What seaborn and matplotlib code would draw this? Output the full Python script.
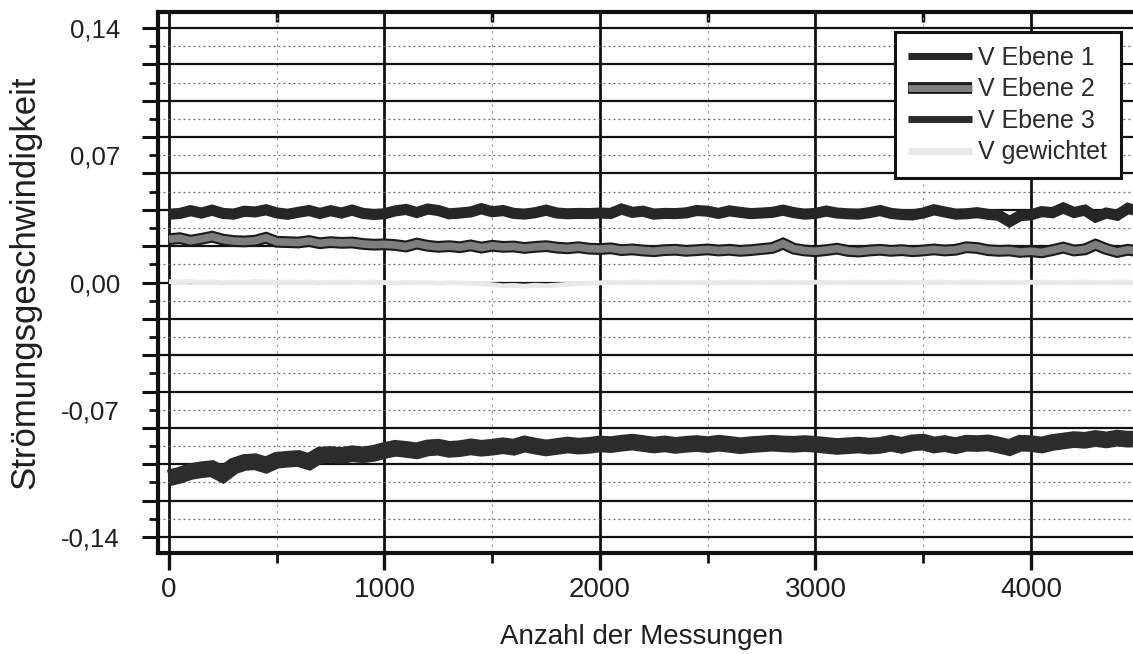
import matplotlib
matplotlib.use("Agg")
import matplotlib.pyplot as plt
import matplotlib.patheffects as pe
import pandas as pd
import seaborn as sns

# Anzahl der Messungen (Stützwerte alle 50 Messungen)
messung = list(range(0, 4501, 50))

v_ebene_1 = [
    0.0375, 0.0380, 0.0395, 0.0382, 0.0398, 0.0380, 0.0376, 0.0392, 0.0388, 0.0400,
    0.0383, 0.0375, 0.0386, 0.0396, 0.0380, 0.0395, 0.0382, 0.0398, 0.0380, 0.0374,
    0.0378, 0.0394, 0.0402, 0.0385, 0.0404, 0.0396, 0.0378, 0.0382, 0.0388, 0.0406,
    0.0389, 0.0396, 0.0380, 0.0376, 0.0384, 0.0398, 0.0382, 0.0378, 0.0380, 0.0379,
    0.0382, 0.0380, 0.0404, 0.0386, 0.0392, 0.0376, 0.0380, 0.0379, 0.0383, 0.0396,
    0.0392, 0.0380, 0.0394, 0.0386, 0.0379, 0.0382, 0.0386, 0.0398, 0.0384, 0.0376,
    0.0380, 0.0393, 0.0382, 0.0378, 0.0376, 0.0384, 0.0396, 0.0380, 0.0374, 0.0372,
    0.0382, 0.0400, 0.0388, 0.0376, 0.0378, 0.0384, 0.0375, 0.0370, 0.0335, 0.0368,
    0.0372, 0.0390, 0.0384, 0.0410, 0.0385, 0.0398, 0.0360, 0.0382, 0.0370, 0.0408,
    0.0390,
]

v_ebene_2 = [
    0.0238, 0.0244, 0.0230, 0.0240, 0.0252, 0.0236, 0.0228, 0.0226, 0.0230, 0.0246,
    0.0224, 0.0222, 0.0220, 0.0228, 0.0216, 0.0222, 0.0218, 0.0220, 0.0212, 0.0208,
    0.0210, 0.0206, 0.0198, 0.0214, 0.0202, 0.0196, 0.0200, 0.0194, 0.0204, 0.0192,
    0.0202, 0.0196, 0.0198, 0.0190, 0.0196, 0.0200, 0.0192, 0.0188, 0.0194, 0.0186,
    0.0184, 0.0188, 0.0178, 0.0182, 0.0176, 0.0172, 0.0178, 0.0180, 0.0174, 0.0178,
    0.0182, 0.0176, 0.0180, 0.0174, 0.0178, 0.0184, 0.0190, 0.0214, 0.0186, 0.0176,
    0.0172, 0.0178, 0.0186, 0.0174, 0.0170, 0.0176, 0.0180, 0.0174, 0.0178, 0.0172,
    0.0176, 0.0182, 0.0176, 0.0180, 0.0194, 0.0190, 0.0178, 0.0174, 0.0176, 0.0168,
    0.0172, 0.0166, 0.0178, 0.0192, 0.0176, 0.0182, 0.0208, 0.0184, 0.0168, 0.0180,
    0.0172,
]

v_ebene_3 = [
    -0.1075, -0.1060, -0.1040, -0.1030, -0.1024, -0.1055, -0.1010, -0.0990, -0.0986, -0.1004,
    -0.0978, -0.0972, -0.0968, -0.0986, -0.0950, -0.0946, -0.0952, -0.0942, -0.0948, -0.0940,
    -0.0924, -0.0912, -0.0918, -0.0926, -0.0910, -0.0906, -0.0918, -0.0914, -0.0904, -0.0912,
    -0.0906, -0.0898, -0.0906, -0.0888, -0.0900, -0.0910, -0.0902, -0.0894, -0.0900, -0.0896,
    -0.0888, -0.0892, -0.0884, -0.0878, -0.0886, -0.0894, -0.0888, -0.0896, -0.0890, -0.0886,
    -0.0892, -0.0884, -0.0890, -0.0898, -0.0892, -0.0888, -0.0884, -0.0888, -0.0890, -0.0886,
    -0.0890, -0.0896, -0.0902, -0.0898, -0.0894, -0.0900, -0.0896, -0.0884, -0.0896, -0.0882,
    -0.0878, -0.0894, -0.0886, -0.0898, -0.0884, -0.0886, -0.0882, -0.0894, -0.0908, -0.0884,
    -0.0886, -0.0894, -0.0880, -0.0872, -0.0864, -0.0868, -0.0858, -0.0866, -0.0856, -0.0862,
    -0.0860,
]

v_gewichtet = [
    0.0005, 0.0002, 0.0006, 0.0001, 0.0004, -0.0002, 0.0003, 0.0000, 0.0005, 0.0002,
    -0.0001, 0.0003, 0.0000, 0.0002, -0.0002, 0.0001, 0.0003, 0.0000, -0.0001, 0.0002,
    0.0000, -0.0003, 0.0001, -0.0002, 0.0000, -0.0004, -0.0001, -0.0003, -0.0005, -0.0008,
    -0.0012, -0.0018, -0.0016, -0.0020, -0.0015, -0.0018, -0.0014, -0.0010, -0.0006, -0.0004,
    -0.0002, 0.0001, -0.0002, 0.0002, 0.0000, -0.0001, 0.0003, 0.0001, -0.0002, 0.0000,
    0.0002, -0.0001, 0.0001, 0.0003, 0.0000, -0.0002, 0.0001, 0.0002, -0.0001, 0.0000,
    0.0002, 0.0001, -0.0002, 0.0000, 0.0003, 0.0001, -0.0001, 0.0002, 0.0000, -0.0002,
    0.0001, 0.0003, 0.0000, -0.0001, 0.0002, 0.0001, -0.0002, 0.0000, 0.0002, -0.0001,
    0.0001, 0.0003, 0.0000, -0.0002, 0.0001, 0.0002, 0.0000, -0.0001, 0.0002, 0.0001,
    0.0000,
]

serien = ["V Ebene 1", "V Ebene 2", "V Ebene 3", "V gewichtet"]

x_ticks = [0, 1000, 2000, 3000, 4000]
x_ticklabels = ["0", "1000", "2000", "3000", "4000"]
x_minor = [500, 1500, 2500, 3500, 4500]

y_grid_major = [-0.14, -0.12, -0.10, -0.08, -0.06, -0.04, -0.02, 0.00,
                0.02, 0.04, 0.06, 0.08, 0.10, 0.12, 0.14]
y_grid_minor = [-0.13, -0.11, -0.09, -0.07, -0.05, -0.03, -0.01,
                0.01, 0.03, 0.05, 0.07, 0.09, 0.11, 0.13]
y_beschriftung = {0.14: "0,14", 0.07: "0,07", 0.00: "0,00", -0.07: "-0,07", -0.14: "-0,14"}

df = pd.DataFrame({
    "Messung": messung * 4,
    "v": v_ebene_1 + v_ebene_2 + v_ebene_3 + v_gewichtet,
    "Serie": sum([[s] * len(messung) for s in serien], []),
})

sns.set_theme(style="white")
plt.rcParams["font.family"] = ["Liberation Sans", "DejaVu Sans"]
plt.rcParams["axes.unicode_minus"] = False

W, H = 1133, 654
fig = plt.figure(figsize=(W / 100, H / 100), dpi=100)
ax_l, ax_r, ax_t, ax_b = 158, 1140, 12, 553
ax = fig.add_axes([ax_l / W, 1 - ax_b / H, (ax_r - ax_l) / W, (ax_b - ax_t) / H])

gemeinsam = dict(solid_capstyle="butt", solid_joinstyle="miter")
stil = {
    "V Ebene 1": dict(color="#262626", linewidth=8, zorder=5),
    "V Ebene 2": dict(color="#7e7e7e", linewidth=5.5, zorder=5,
                      path_effects=[pe.Stroke(linewidth=8.5, foreground="#1a1a1a"), pe.Normal()]),
    "V Ebene 3": dict(color="#2c2c2c", linewidth=12, zorder=5),
    "V gewichtet": dict(color="#e9e9e9", linewidth=3.5, zorder=4),
}
for s in serien:
    sub = df[df["Serie"] == s]
    sns.lineplot(data=sub, x="Messung", y="v", ax=ax, label=s,
                 estimator=None, sort=False, legend=False, **gemeinsam, **stil[s])

ax.set_xlim(-51, 4506)
ax.set_ylim(-0.1488, 0.1488)

# Achsen und Raster
ax.set_xticks(x_ticks, labels=x_ticklabels)
ax.set_xticks(x_minor, minor=True)
ax.set_yticks(y_grid_major, labels=[y_beschriftung.get(round(v, 2), "") for v in y_grid_major])
ax.set_yticks(y_grid_minor, labels=[y_beschriftung.get(round(v, 2), "") for v in y_grid_minor], minor=True)

ax.xaxis.grid(True, which="major", color="#111111", linewidth=2.0)
ax.xaxis.grid(True, which="minor", color="#9a9a9a", linewidth=0.8, linestyle=(0, (2, 4)))
ax.yaxis.grid(True, which="major", color="#111111", linewidth=1.6)
ax.yaxis.grid(True, which="minor", color="#666666", linewidth=0.9, linestyle=(0, (1.5, 2.5)))
ax.set_axisbelow(True)

ax.tick_params(axis="y", which="major", direction="out", length=11.5, width=2.2,
               color="#111111", labelsize=18.5, pad=16, labelcolor="#1e1e1e", left=True)
ax.tick_params(axis="y", which="minor", direction="out", length=6.5, width=2.0,
               color="#111111", labelsize=18.5, pad=21, labelcolor="#1e1e1e", left=True)
ax.tick_params(axis="x", which="major", direction="out", length=12, width=2.4,
               color="#111111", labelsize=20, pad=5, labelcolor="#1e1e1e", bottom=True)
ax.tick_params(axis="x", which="minor", direction="out", length=7, width=2.0,
               color="#111111", bottom=True)

oben = ax.secondary_xaxis("top")
oben.set_xticks(x_minor, minor=True)
oben.set_xticks([])
oben.tick_params(which="minor", direction="in", length=7, width=2.5, color="#111111")
oben.spines["top"].set_visible(False)

for name in ("left", "top", "bottom"):
    ax.spines[name].set_visible(True)
    ax.spines[name].set_linewidth(3.0)
    ax.spines[name].set_color("#111111")
ax.spines["right"].set_visible(False)

ax.set_xlabel("Anzahl der Messungen", fontsize=20, color="#1e1e1e", va="top")
ax.xaxis.set_label_coords(0.492, -0.132)
ax.set_ylabel("Strömungsgeschwindigkeit", fontsize=25, color="#1e1e1e")
ax.yaxis.set_label_coords(-0.119, 0.5)

handles, labels = ax.get_legend_handles_labels()
leg = ax.legend(handles, labels, loc="upper right",
                bbox_to_anchor=(1121 / W, 1 - 32 / H), bbox_transform=fig.transFigure,
                fontsize=18, frameon=True, fancybox=False, framealpha=1,
                edgecolor="#111111", handlelength=2.55, handletextpad=0.25,
                labelspacing=0.3, borderpad=0.55, borderaxespad=0)
leg.get_frame().set_linewidth(2.2)
for line in leg.get_lines():
    line.set_linewidth(5)
for t in leg.get_texts():
    t.set_color("#2a2a2a")
leg.set_zorder(10)

fig.savefig("out.png", dpi=100)
